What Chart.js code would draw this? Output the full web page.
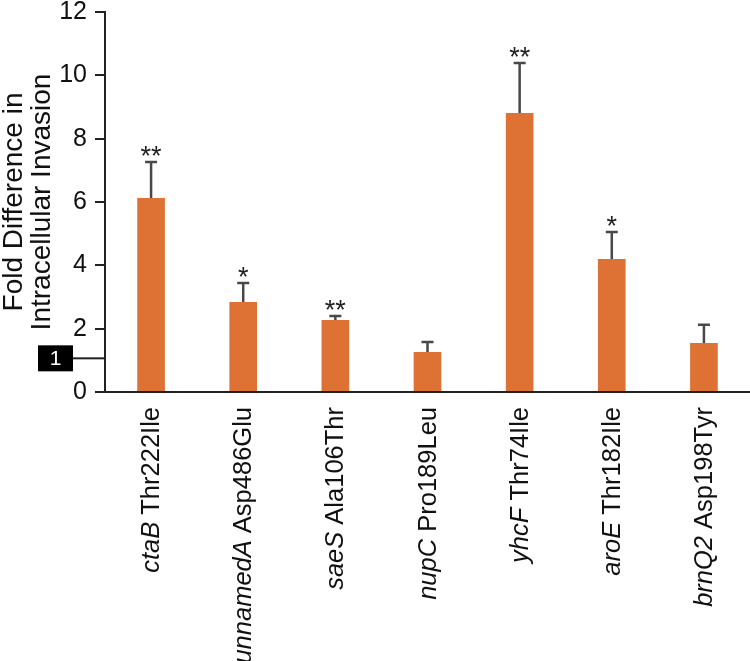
<!DOCTYPE html>
<html>
<head>
<meta charset="utf-8">
<script src="https://cdn.jsdelivr.net/npm/chart.js@4.4.1/dist/chart.umd.min.js"></script>
<style>
    html, body { margin: 0; padding: 0; background: #ffffff; }
    #chartBox { width: 750px; height: 661px; }
</style>
</head>
<body>
<div id="chartBox"><canvas id="invasionChart"></canvas></div>
<script>
// Datos
const geneNames = ['ctaB', 'unnamedA', 'saeS', 'nupC', 'yhcF', 'aroE', 'brnQ2'];
const mutations = ['Thr222Ile', 'Asp486Glu', 'Ala106Thr', 'Pro189Leu', 'Thr74Ile', 'Thr182Ile', 'Asp198Tyr'];
const foldValues = [6.13, 2.84, 2.27, 1.26, 8.81, 4.20, 1.55];
const errorTops = [7.26, 3.44, 2.40, 1.58, 10.39, 5.05, 2.12];
const significance = ['**', '*', '**', '', '**', '*', ''];
const yTicks = [0, 2, 4, 6, 8, 10, 12];
const referenceLine = 1;

const labels = geneNames.map((g, i) => g + ' ' + mutations[i]);
const axisColor = '#222222';
const barColor = '#de7134';
const fontFamily = '"Liberation Sans", Arial, Helvetica, sans-serif';

// Barras de error, asteriscos, caja "1" y etiquetas del eje x
const extrasPlugin = {
    id: 'extras',
    afterDatasetsDraw(chart) {
        const ctx = chart.ctx;
        const x = chart.scales.x;
        const y = chart.scales.y;

        ctx.save();
        ctx.strokeStyle = '#484848';
        ctx.lineWidth = 2.5;
        errorTops.forEach((top, i) => {
            const cx = x.getPixelForValue(i);
            const yBar = y.getPixelForValue(foldValues[i]);
            const yTop = y.getPixelForValue(top);
            ctx.beginPath();
            ctx.moveTo(cx, yBar);
            ctx.lineTo(cx, yTop);
            ctx.moveTo(cx - 6, yTop);
            ctx.lineTo(cx + 6, yTop);
            ctx.stroke();

            if (significance[i]) {
                ctx.fillStyle = '#222222';
                ctx.font = '27px ' + fontFamily;
                ctx.textAlign = 'center';
                ctx.textBaseline = 'alphabetic';
                ctx.fillText(significance[i], cx, yTop + 3);
            }
        });

        // Línea de referencia en 1
        const yRef = y.getPixelForValue(referenceLine) - 2;
        ctx.strokeStyle = axisColor;
        ctx.lineWidth = 2;
        ctx.beginPath();
        ctx.moveTo(73, yRef);
        ctx.lineTo(chart.chartArea.left, yRef);
        ctx.stroke();
        ctx.fillStyle = '#000000';
        ctx.fillRect(38, yRef - 13, 35, 26);
        ctx.fillStyle = '#ffffff';
        ctx.font = '21px ' + fontFamily;
        ctx.textAlign = 'center';
        ctx.textBaseline = 'middle';
        ctx.fillText(String(referenceLine), 55.5, yRef + 1);

        // Etiquetas rotadas: gen en cursiva + mutación
        const labelTop = chart.chartArea.bottom + 15;
        ctx.fillStyle = '#111111';
        ctx.textBaseline = 'middle';
        geneNames.forEach((gene, i) => {
            const cx = x.getPixelForValue(i);
            ctx.save();
            ctx.translate(cx + 1, labelTop);
            ctx.rotate(-Math.PI / 2);
            ctx.textAlign = 'right';
            ctx.font = '25.5px ' + fontFamily;
            ctx.fillText(mutations[i], 0, 0);
            const w = ctx.measureText(mutations[i] + ' ').width;
            ctx.font = 'italic 25.5px ' + fontFamily;
            ctx.fillText(gene, -w, 0);
            ctx.restore();
        });
        ctx.restore();
    }
};

const ctx = document.getElementById('invasionChart').getContext('2d');
const invasionChart = new Chart(ctx, {
    type: 'bar',
    data: {
        labels: labels,
        datasets: [{
            data: foldValues,
            backgroundColor: barColor,
            borderWidth: 0,
            barPercentage: 0.3,
            categoryPercentage: 1.0
        }]
    },
    options: {
        responsive: true,
        maintainAspectRatio: false,
        animation: false,
        layout: { padding: { top: 12, right: 0, bottom: 0, left: 0 } },
        plugins: {
            legend: { display: false },
            tooltip: { enabled: false }
        },
        scales: {
            x: {
                ticks: { display: false },
                grid: { display: false, drawTicks: false },
                border: { display: true, color: axisColor, width: 2 },
                afterFit: (scale) => { scale.height = 269; }
            },
            y: {
                min: 0,
                max: 12,
                afterBuildTicks: (scale) => {
                    scale.ticks = yTicks.map(v => ({ value: v }));
                },
                ticks: {
                    color: '#111111',
                    padding: 8,
                    font: { family: fontFamily, size: 25 }
                },
                grid: {
                    drawOnChartArea: false,
                    drawTicks: true,
                    tickLength: 10,
                    color: axisColor,
                    lineWidth: 2
                },
                border: { display: true, color: axisColor, width: 2 },
                title: {
                    display: true,
                    text: ['Fold Difference in', 'Intracellular Invasion'],
                    color: '#111111',
                    font: { family: fontFamily, size: 28, lineHeight: 0.98 },
                    padding: { top: 1, bottom: 0 }
                },
                afterFit: (scale) => {
                    scale.width = 105;
                    scale.paddingTop = 0;
                    scale.paddingBottom = 0;
                }
            }
        }
    },
    plugins: [extrasPlugin]
});
</script>
</body>
</html>
